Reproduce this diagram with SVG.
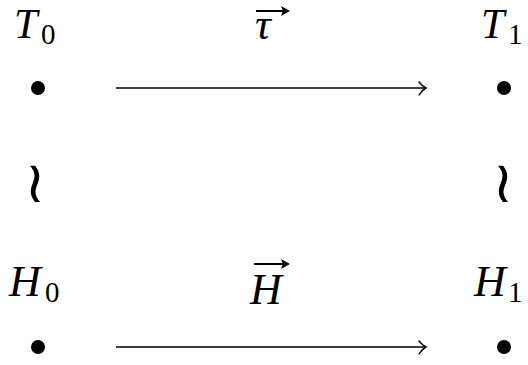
<svg xmlns="http://www.w3.org/2000/svg" width="528" height="365" viewBox="0 0 528 365">
<style>
text{fill:#000}
.m{font-style:italic;font-size:44px}
.t{font-style:italic;font-size:42px}
.s{font-size:29px}
.w{font-size:58px}
.ln{stroke:#000;stroke-width:1.4;fill:none}
.hd{stroke:#000;stroke-width:1.4;fill:none;stroke-linecap:round}
.va{stroke:#000;stroke-width:2;fill:none}
</style>
<g id="T0" font-family="Liberation Serif, serif"><text class="t" x="14" y="37.5">T</text><text class="s" x="41" y="44">0</text><circle cx="38" cy="88" r="7"/></g>
<g id="T1" font-family="Liberation Serif, serif"><text class="t" x="481" y="37.5">T</text><text class="s" x="508" y="44">1</text><circle cx="504" cy="88" r="7"/></g>
<g id="H0" font-family="Liberation Serif, serif"><text class="m" x="9" y="296">H</text><text class="s" x="45" y="302">0</text><circle cx="38" cy="347" r="7"/></g>
<g id="H1" font-family="Liberation Serif, serif"><text class="m" x="474" y="296">H</text><text class="s" x="508" y="302">1</text><circle cx="504" cy="347" r="7"/></g>
<g id="connectors">
<line class="ln" x1="116" y1="88" x2="425" y2="88"/>
<path class="hd" d="M419,82 Q422,86 426,88 Q422,90 419,95"/>
<line class="ln" x1="116" y1="347" x2="425" y2="347"/>
<path class="hd" d="M419,341 Q422,345 426,347 Q422,349 419,354"/>
<text class="w" x="35" y="202" text-anchor="middle" font-family="DejaVu Sans, sans-serif">≀</text>
<text class="w" x="503" y="202" text-anchor="middle" font-family="DejaVu Sans, sans-serif">≀</text>
</g>
<g id="labels" font-family="Liberation Serif, serif">
<text class="m" x="255" y="39">τ</text>
<line class="va" x1="256" y1="11" x2="285" y2="11"/>
<path d="M281,6 L290,11 L281,16 L283,11 Z" fill="#000"/>
<text class="m" x="250" y="304">H</text>
<line class="va" x1="254" y1="264" x2="285" y2="264"/>
<path d="M281,259 L290,264 L281,269 L283,264 Z" fill="#000"/>
</g>
</svg>
